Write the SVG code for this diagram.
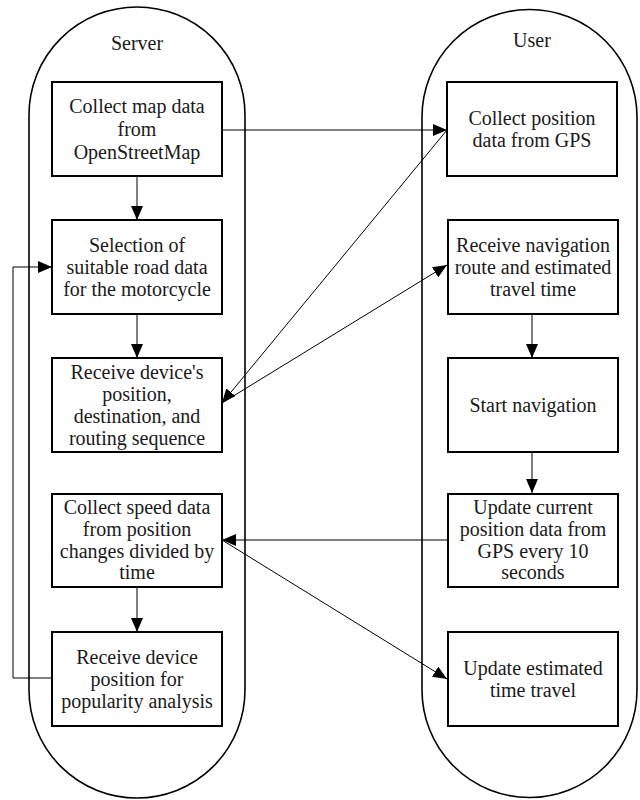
<svg xmlns="http://www.w3.org/2000/svg" width="640" height="800" viewBox="0 0 640 800">
<style>
.lane{fill:none;stroke:#000;stroke-width:1.6}
.box{fill:#fff;stroke:#000;stroke-width:2}
.t{font-family:'Liberation Serif','Times New Roman','DejaVu Serif',serif;font-size:20px;fill:#1a1a1a;text-anchor:middle}
.c{fill:none;stroke:#000;stroke-width:1}
.ca{fill:none;stroke:#000;stroke-width:1;marker-end:url(#ah)}
</style>
<defs>
<marker id="ah" viewBox="0 0 14 12" refX="14" refY="6" markerWidth="14" markerHeight="12" markerUnits="userSpaceOnUse" orient="auto">
<path d="M0,0 L14,6 L0,12 Z" fill="#000"/>
</marker>
</defs>
<g id="lane-server">
<path class="lane" d="M29,115 A108,108 0 0 1 245,115 V690 A108,108 0 0 1 29,690 Z"/>
<text class="t" x="137" y="50" font-family="Liberation Serif, serif">Server</text>
</g>
<g id="lane-user">
<path class="lane" d="M422,117 A107.5,107.5 0 0 1 637,117 V690 A107.5,107.5 0 0 1 422,690 Z"/>
<text class="t" x="532" y="47">User</text>
</g>
<g id="connectors">
<line class="ca" x1="137" y1="176" x2="137" y2="220"/>
<line class="ca" x1="137" y1="314" x2="137" y2="358"/>
<line class="ca" x1="137" y1="587" x2="137" y2="632"/>
<polyline class="ca" points="52,678 13,678 13,267 52,267"/>
<line class="ca" x1="222" y1="130" x2="447" y2="130"/>
<line class="ca" x1="447" y1="130" x2="222" y2="403"/>
<line class="ca" x1="222" y1="403" x2="447" y2="265"/>
<line class="ca" x1="532" y1="314" x2="532" y2="358"/>
<line class="ca" x1="532" y1="452" x2="532" y2="493"/>
<line class="ca" x1="447" y1="540" x2="222" y2="540"/>
<line class="ca" x1="222" y1="540" x2="447" y2="679"/>
</g>
<g id="s1">
<rect class="box" x="52" y="82" width="170" height="94"/>
<text class="t" x="137" y="113">Collect map data</text>
<text class="t" x="137" y="136">from</text>
<text class="t" x="137" y="159">OpenStreetMap</text>
</g>
<g id="s2">
<rect class="box" x="52" y="220" width="170" height="94"/>
<text class="t" x="137" y="252">Selection of</text>
<text class="t" x="137" y="274">suitable road data</text>
<text class="t" x="137" y="296">for the motorcycle</text>
</g>
<g id="s3">
<rect class="box" x="52" y="358" width="170" height="94"/>
<text class="t" x="137" y="379">Receive device's</text>
<text class="t" x="137" y="401">position,</text>
<text class="t" x="137" y="423">destination, and</text>
<text class="t" x="137" y="445">routing sequence</text>
</g>
<g id="s4">
<rect class="box" x="52" y="494" width="170" height="93"/>
<text class="t" x="137" y="514">Collect speed data</text>
<text class="t" x="137" y="536">from position</text>
<text class="t" x="137" y="558">changes divided by</text>
<text class="t" x="137" y="579">time</text>
</g>
<g id="s5">
<rect class="box" x="52" y="632" width="170" height="94"/>
<text class="t" x="137" y="664">Receive device</text>
<text class="t" x="137" y="686">position for</text>
<text class="t" x="137" y="708">popularity analysis</text>
</g>
<g id="u1">
<rect class="box" x="447" y="82" width="170" height="94"/>
<text class="t" x="532" y="125">Collect position</text>
<text class="t" x="532" y="147">data from GPS</text>
</g>
<g id="u2">
<rect class="box" x="448" y="220" width="170" height="94"/>
<text class="t" x="533" y="252">Receive navigation</text>
<text class="t" x="533" y="274">route and estimated</text>
<text class="t" x="533" y="296">travel time</text>
</g>
<g id="u3">
<rect class="box" x="448" y="358" width="170" height="94"/>
<text class="t" x="533" y="412">Start navigation</text>
</g>
<g id="u4">
<rect class="box" x="448" y="494" width="170" height="93"/>
<text class="t" x="533" y="514">Update current</text>
<text class="t" x="533" y="536">position data from</text>
<text class="t" x="533" y="558">GPS every 10</text>
<text class="t" x="533" y="579">seconds</text>
</g>
<g id="u5">
<rect class="box" x="448" y="632" width="170" height="94"/>
<text class="t" x="533" y="675">Update estimated</text>
<text class="t" x="533" y="697">time travel</text>
</g>
</svg>
